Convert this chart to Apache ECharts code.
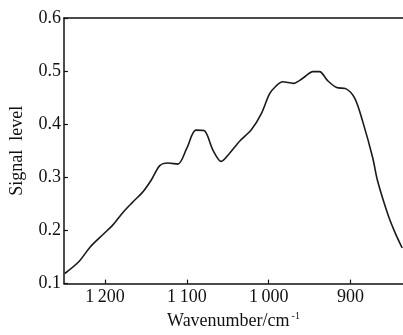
<!DOCTYPE html>
<html>
<head>
<meta charset="utf-8">
<script src="https://cdn.jsdelivr.net/npm/echarts@6/dist/echarts.min.js"></script>
<style>
html, body { margin: 0; padding: 0; background: #fff; }
#main { width: 403px; height: 335px; }
</style>
</head>
<body>
<div id="main"></div>
<script>
// wavenumber (cm-1) and signal level
var wavenumber = [1249, 1232, 1218, 1202, 1190, 1178, 1167, 1153, 1143, 1133, 1123, 1111, 1100, 1089, 1079, 1068, 1058, 1048, 1035, 1021, 1009, 999, 991, 983, 970, 958, 946, 938, 928, 917, 906, 895, 885, 873, 867, 854, 846, 837];
var signal = [0.119, 0.141, 0.169, 0.193, 0.211, 0.234, 0.252, 0.274, 0.296, 0.322, 0.327, 0.325, 0.355, 0.389, 0.388, 0.351, 0.330, 0.345, 0.369, 0.390, 0.420, 0.457, 0.472, 0.480, 0.477, 0.487, 0.499, 0.499, 0.482, 0.469, 0.467, 0.449, 0.404, 0.337, 0.293, 0.228, 0.197, 0.167];
var xTicks = [1200, 1100, 1000, 900];

var pts = wavenumber.map(function (w, i) { return [w, signal[i]]; });
var font = 'Liberation Serif';

var myChart = echarts.init(document.getElementById('main'));
myChart.setOption({
    animation: false,
    grid: { left: 64, right: 0, top: 18, bottom: 48 },
    xAxis: [
        {
            type: 'value',
            inverse: true,
            min: 836,
            max: 1250,
            interval: 100,
            name: '{a|Wavenumber/cm}{s|-1}',
            nameLocation: 'middle',
            nameGap: 26,
            nameTextStyle: {
                rich: {
                    a: { fontFamily: font, fontSize: 18, color: '#111' },
                    s: { fontFamily: font, fontSize: 10, color: '#111', verticalAlign: 'top', padding: [0, 0, 9, 2] }
                }
            },
            axisLine: { show: true, onZero: false, lineStyle: { color: '#111', width: 1.5 } },
            axisTick: { show: true, inside: true, length: 4, lineStyle: { color: '#111', width: 1.2 },
                customValues: xTicks },
            axisLabel: {
                customValues: xTicks,
                fontFamily: font, fontSize: 18, color: '#111', margin: 5,
                formatter: function (v) { return v >= 1000 ? String(v).charAt(0) + '\u2009' + String(v).slice(1) : String(v); }
            },
            splitLine: { show: false }
        },
        {
            type: 'value',
            position: 'top',
            inverse: true,
            min: 836,
            max: 1250,
            axisLine: { show: true, onZero: false, lineStyle: { color: '#111', width: 1.5 } },
            axisTick: { show: false },
            axisLabel: { show: false },
            splitLine: { show: false }
        }
    ],
    yAxis: {
        type: 'value',
        min: 0.1,
        max: 0.6,
        interval: 0.1,
        name: 'Signal  level',
        nameLocation: 'middle',
        nameGap: 38,
        nameTextStyle: { fontFamily: font, fontSize: 18, color: '#111' },
        axisLine: { show: true, onZero: false, lineStyle: { color: '#111', width: 1.5 } },
        axisTick: { show: true, inside: true, length: 4, lineStyle: { color: '#111', width: 1.2 } },
        axisLabel: {
            fontFamily: font, fontSize: 18, color: '#111', margin: 3,
            formatter: function (v) { return v.toFixed(1); }
        },
        splitLine: { show: false }
    },
    series: [{
        type: 'line',
        data: pts,
        showSymbol: false,
        smooth: 0.3,
        lineStyle: { color: '#1a1a1a', width: 1.6 }
    }]
});
</script>
</body>
</html>
